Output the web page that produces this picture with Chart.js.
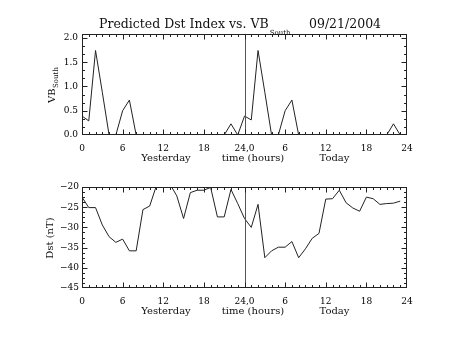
<!DOCTYPE html>
<html>
<head>
<meta charset="utf-8">
<script src="https://cdn.jsdelivr.net/npm/chart.js@4.4.1/dist/chart.umd.min.js"></script>
<style>
  body { margin: 0; background: #fff; }
  canvas { position: absolute; left: 0; }
  #vbChart { top: 0; }
  #dstChart { top: 170px; }
</style>
</head>
<body>
<canvas id="vbChart" width="453" height="170"></canvas>
<canvas id="dstChart" width="453" height="170"></canvas>
<script>
// hours since start of yesterday (0-23 yesterday, 24-47 today)
const hours = [0, 1, 2, 3, 4, 5, 6, 7, 8, 9, 10, 11, 12, 13, 14, 15, 16, 17, 18, 19, 20, 21, 22, 23,
  24, 25, 26, 27, 28, 29, 30, 31, 32, 33, 34, 35, 36, 37, 38, 39, 40, 41, 42, 43, 44, 45, 46, 47];

const vbSouth = [0.39, 0.29, 1.74, 0.88, 0, 0, 0.50, 0.72, 0, 0, 0, 0, 0, 0, 0, 0, 0, 0, 0, 0, 0, 0, 0.23, 0,
  0.39, 0.31, 1.74, 0.88, 0, 0, 0.50, 0.72, 0, 0, 0, 0, 0, 0, 0, 0, 0, 0, 0, 0, 0, 0, 0.23, 0];

const dst = [-22.5, -25.1, -25.1, -29.4, -32.3, -33.7, -32.9, -35.8, -35.8, -25.6, -24.7, -19.6,
  -18.5, -19.3, -22.2, -27.8, -21.4, -20.8, -20.8, -20.1, -27.4, -27.4, -20.6, -24.1,
  -27.8, -30.0, -24.3, -37.5, -35.8, -34.9, -34.9, -33.5, -37.5, -35.3, -32.7, -31.5,
  -23.0, -22.9, -20.8, -23.9, -25.2, -26.0, -22.5, -22.9, -24.3, -24.1, -24.0, -23.5];

const xTicks = [0, 6, 12, 18, 24, 30, 36, 42, 48];
const xTickLabels = ["0", "6", "12", "18", "24,0", "6", "12", "18", "24"];
const vbTicks = [0, 0.5, 1.0, 1.5, 2.0];
const dstTicks = [-45, -40, -35, -30, -25, -20];

Chart.defaults.font.family = "'DejaVu Serif', serif";
Chart.defaults.color = "#000";

const FONT = "'DejaVu Serif', serif";

const line = (ctx, x1, y1, x2, y2) => {
  ctx.beginPath();
  ctx.moveTo(x1, y1);
  ctx.lineTo(x2, y2);
  ctx.stroke();
};

// box, inward ticks on all four sides, divider at 24h, and the titles
const idlFrame = {
  id: "idlFrame",
  afterDatasetsDraw(chart, args, opts) {
    const { ctx, chartArea: a, scales: { x, y } } = chart;
    const L = Math.round(a.left) + 0.5, R = Math.round(a.right) - 0.5;
    const T = Math.round(a.top) + 0.5, B = Math.round(a.bottom) - 0.5;
    ctx.save();
    ctx.lineWidth = 1;

    ctx.strokeStyle = "#555";
    const xd = Math.round(x.getPixelForValue(24)) + 0.5;
    line(ctx, xd, T, xd, B);

    ctx.strokeStyle = "#222";
    ctx.strokeRect(L, T, R - L, B - T);

    for (let h = 1; h < 48; h++) {
      const px = Math.round(x.getPixelForValue(h)) + 0.5;
      const len = h % 6 === 0 ? 5 : 2.5;
      line(ctx, px, B, px, B - len);
      line(ctx, px, T, px, T + len);
    }
    const start = Math.ceil(y.min / opts.minor - 1e-9);
    for (let k = start; k * opts.minor <= y.max + 1e-9; k++) {
      const v = k * opts.minor;
      const py = Math.round(y.getPixelForValue(v)) + 0.5;
      if (py <= T + 1 || py >= B - 1) continue;
      const r = v / opts.major;
      const len = Math.abs(r - Math.round(r)) < 1e-6 ? 5 : 2.5;
      line(ctx, L, py, L + len, py);
      line(ctx, R, py, R - len, py);
    }
    ctx.restore();
  },
  afterDraw(chart, args, opts) {
    const { ctx, chartArea: a } = chart;
    ctx.save();
    ctx.fillStyle = "#111";
    ctx.textBaseline = "alphabetic";

    if (opts.title) {
      ctx.textAlign = "left";
      ctx.font = "12.5px " + FONT;
      ctx.fillText(opts.title, 99, 28);
      const w = ctx.measureText(opts.title).width;
      ctx.font = "7px " + FONT;
      ctx.fillText(opts.titleSub, 99 + w + 1, 35);
      ctx.font = "12.5px " + FONT;
      ctx.fillText(opts.date, 309, 28);
    }

    // x axis title pieces
    ctx.font = "10px " + FONT;
    ctx.textAlign = "center";
    const by = a.bottom + 25.5;
    ctx.fillText("Yesterday", 166, by);
    ctx.fillText("time (hours)", 253, by);
    ctx.fillText("Today", 334.5, by);

    // y axis title (rotated, optional subscript)
    ctx.translate(opts.yTitleX, opts.yTitleY);
    ctx.rotate(-Math.PI / 2);
    ctx.font = "10px " + FONT;
    if (opts.yTitleSub) {
      ctx.textAlign = "left";
      ctx.fillText(opts.yTitle, 0, 0);
      const w = ctx.measureText(opts.yTitle).width;
      ctx.font = "7px " + FONT;
      ctx.fillText(opts.yTitleSub, w + 0.5, 3);
    } else {
      ctx.textAlign = "center";
      ctx.fillText(opts.yTitle, 0, 0);
    }
    ctx.restore();
  },
};

const xScale = (h) => ({
  type: "linear",
  min: 0,
  max: 48,
  afterBuildTicks: (s) => { s.ticks = xTicks.map((v) => ({ value: v })); },
  afterFit: (s) => { s.height = h; },
  grid: { display: false, drawTicks: false },
  border: { display: false },
  ticks: {
    autoSkip: false,
    maxRotation: 0,
    padding: 8,
    font: { size: 9 },
    callback: (v, i) => xTickLabels[i],
  },
});

const baseOptions = {
  responsive: false,
  animation: false,
  devicePixelRatio: 1,
  events: [],
  plugins: { legend: { display: false }, tooltip: { enabled: false } },
};

const vbChart = new Chart(document.getElementById("vbChart"), {
  type: "line",
  data: {
    datasets: [{
      data: hours.map((h, i) => ({ x: h, y: vbSouth[i] })),
      borderColor: "#222",
      borderWidth: 1,
      pointRadius: 0,
      tension: 0,
    }],
  },
  options: {
    ...baseOptions,
    layout: { padding: { top: 34, right: 46, left: 0, bottom: 0 } },
    scales: {
      x: xScale(35),
      y: {
        min: 0,
        max: 2.08,
        afterBuildTicks: (s) => { s.ticks = vbTicks.map((v) => ({ value: v })); },
        afterFit: (s) => { s.width = 82; },
        grid: { display: false, drawTicks: false },
        border: { display: false },
        ticks: { padding: 4, font: { size: 9 }, callback: (v) => v.toFixed(1) },
      },
    },
    plugins: {
      ...baseOptions.plugins,
      idlFrame: {
        minor: 0.5 / 3,
        major: 0.5,
        title: "Predicted Dst Index vs. VB",
        titleSub: "South",
        date: "09/21/2004",
        yTitle: "VB",
        yTitleSub: "South",
        yTitleX: 54.5,
        yTitleY: 103,
      },
    },
  },
  plugins: [idlFrame],
});

const dstChart = new Chart(document.getElementById("dstChart"), {
  type: "line",
  data: {
    datasets: [{
      data: hours.map((h, i) => ({ x: h, y: dst[i] })),
      borderColor: "#222",
      borderWidth: 1,
      pointRadius: 0,
      tension: 0,
    }],
  },
  options: {
    ...baseOptions,
    layout: { padding: { top: 17, right: 46, left: 0, bottom: 0 } },
    scales: {
      x: xScale(52),
      y: {
        min: -45,
        max: -20,
        afterBuildTicks: (s) => { s.ticks = dstTicks.map((v) => ({ value: v })); },
        afterFit: (s) => { s.width = 82; },
        grid: { display: false, drawTicks: false },
        border: { display: false },
        ticks: { padding: 3, font: { size: 9 }, callback: (v) => String(v).replace("-", "\u2212") },
      },
    },
    plugins: {
      ...baseOptions.plugins,
      idlFrame: {
        minor: 1.25,
        major: 5,
        yTitle: "Dst (nT)",
        yTitleX: 52.5,
        yTitleY: 68,
      },
    },
  },
  plugins: [idlFrame],
});
</script>
</body>
</html>
